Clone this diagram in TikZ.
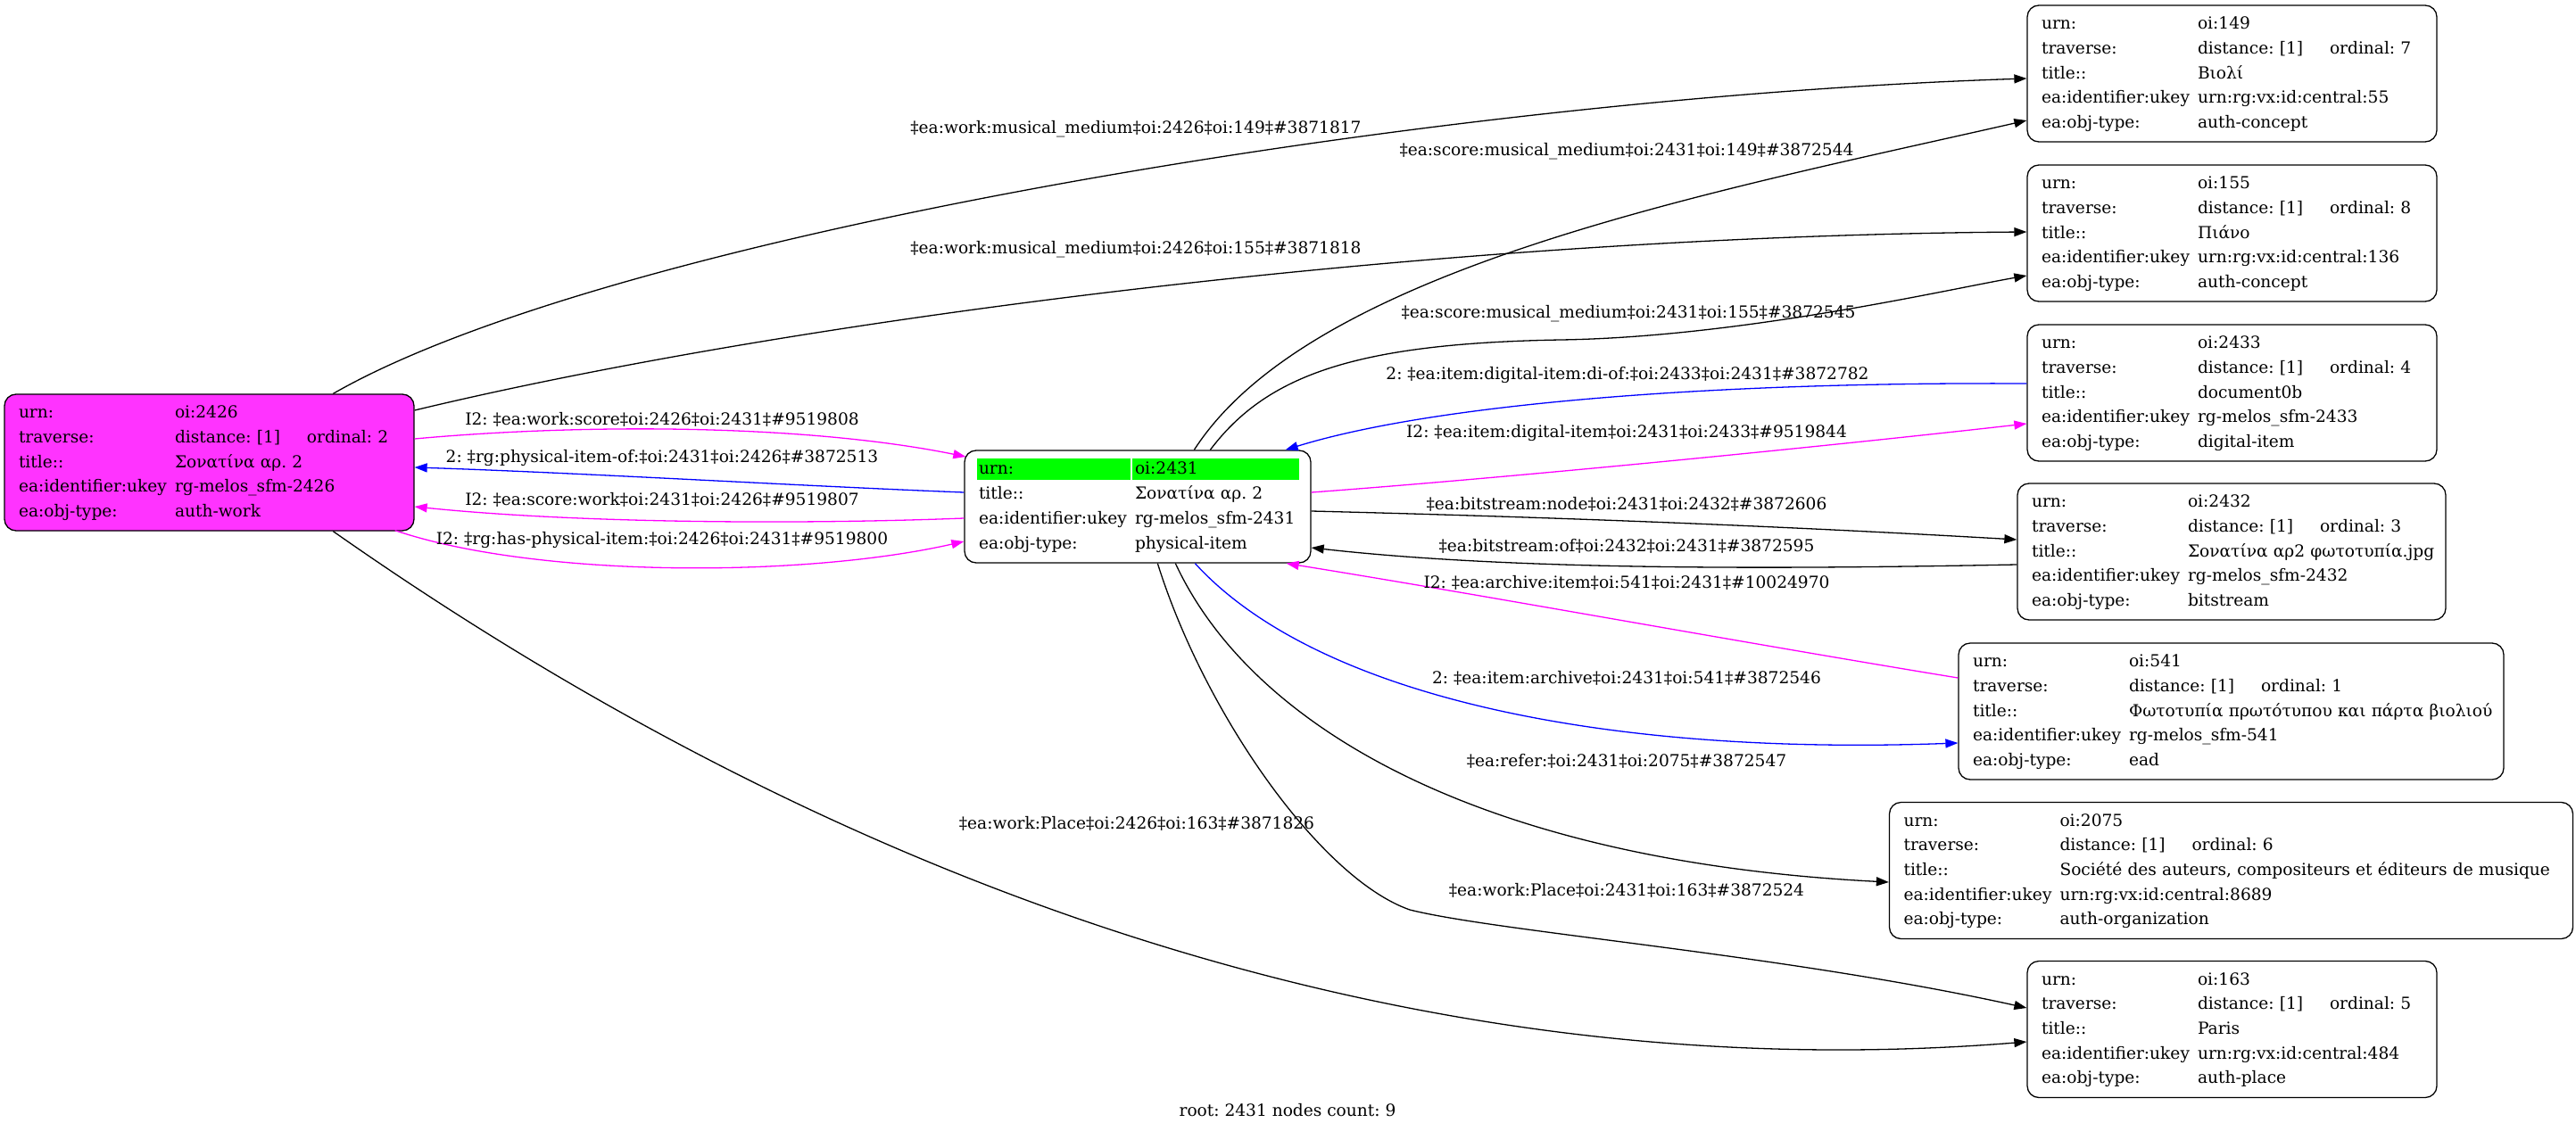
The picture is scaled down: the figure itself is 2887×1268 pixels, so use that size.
\documentclass[tikz,border=0pt]{standalone}
\usepackage{fontspec}
\setmainfont{DejaVu Serif}
\usetikzlibrary{arrows.meta,calc}
\renewcommand{\arraystretch}{1.242}
\frenchspacing
\definecolor{mag}{RGB}{255,0,255}
\definecolor{magfill}{RGB}{255,51,255}
\definecolor{gvgreen}{RGB}{0,255,0}
\definecolor{gvblue}{RGB}{0,0,255}
\newcommand\infotab[5]{%
\begin{tabular}{@{}p{175pt}@{}l@{}}
urn: & oi:#1\\
traverse: & \makebox[148pt][l]{distance: [1]}ordinal: #2\\
title:: & #3\\
ea:identifier:ukey & #4\\
ea:obj-type: & #5
\end{tabular}}
\tikzset{
  gvfont/.style={font=\fontsize{18.6}{22.3}\selectfont\frenchspacing},
  recbox/.style={gvfont, draw=black, line width=1.3pt, rounded corners=13pt,
    inner xsep=16pt, inner ysep=0pt, align=left, minimum height=153pt},
  lbl/.style={gvfont, inner sep=0pt},
  arr/.style={line width=1.3pt, -{Triangle[length=14pt,width=10pt]}},
  blk/.style={arr, draw=black},
  mg/.style={arr, draw=mag, -{Triangle[length=14pt,width=10pt,fill=mag]}},
  bl/.style={arr, draw=gvblue, -{Triangle[length=14pt,width=10pt,fill=gvblue]}}
}
\begin{document}
\begin{tikzpicture}[x=1pt,y=-1pt]
\fill[white] (0,0) rectangle (2887,1268);
\useasboundingbox (0,0) rectangle (2887,1268);

% green header cells of root node
\fill[gvgreen] (1095,514) rectangle (1267,538);
\fill[gvgreen] (1269,514) rectangle (1456,538);

% nodes
\node[recbox, fill=magfill, text width=427pt] (A) at (234.5,518.5)
  {\infotab{2426}{2}{Σονατίνα αρ. 2}{rg-melos\_sfm-2426}{auth-work}};
\node[recbox, text width=356pt, minimum height=126pt] (R) at (1275,568)
  {\begin{tabular}{@{}p{175pt}@{}l@{}}
   urn: & oi:2431\\
   title:: & Σονατίνα αρ. 2\\
   ea:identifier:ukey & rg-melos\_sfm-2431\\
   ea:obj-type: & physical-item
   \end{tabular}};
\node[recbox, text width=427pt] (B149) at (2501.5,82.5)
  {\infotab{149}{7}{Βιολί}{urn:rg:vx:id:central:55}{auth-concept}};
\node[recbox, text width=427pt] (B155) at (2501.5,261.5)
  {\infotab{155}{8}{Πιάνο}{urn:rg:vx:id:central:136}{auth-concept}};
\node[recbox, text width=427pt] (B2433) at (2501.5,440.5)
  {\infotab{2433}{4}{document0b}{rg-melos\_sfm-2433}{digital-item}};
\node[recbox, text width=448pt] (B2432) at (2501,618.5)
  {\infotab{2432}{3}{Σονατίνα αρ2 φωτοτυπία.jpg}{rg-melos\_sfm-2432}{bitstream}};
\node[recbox, text width=579pt] (B541) at (2500.5,797.5)
  {\infotab{541}{1}{Φωτοτυπία πρωτότυπου και πάρτα βιολιού}{rg-melos\_sfm-541}{ead}};
\node[recbox, text width=734pt] (B2075) at (2500.5,976)
  {\infotab{2075}{6}{Société des auteurs, compositeurs et éditeurs de musique}{urn:rg:vx:id:central:8689}{auth-organization}};
\node[recbox, text width=427pt] (B163) at (2501.5,1154)
  {\infotab{163}{5}{Paris}{urn:rg:vx:id:central:484}{auth-place}};

% edges
\draw[blk] ($(A.north west)+(369,0)$) .. controls (680,265) and (1600,110) .. ($(B149.west)+(0,5.5)$);
\draw[blk] ($(R.north west)+(258,0)$) .. controls (1470,300) and (1920,215) .. ($(B149.west)+(0,52.5)$);
\draw[blk] ($(A.east)+(0,-58.5)$) .. controls (880,360) and (1600,265) .. ($(B155.west)+(0,-1.5)$);
\draw[blk] ($(R.north west)+(276,0)$) .. controls (1420,420) and (1520,385) .. (1749,381)
  .. controls (1950,378) and (2180,325) .. ($(B155.west)+(0,47.5)$);
\draw[bl] ($(B2433.west)+(0,-10.5)$) .. controls (1900,428) and (1600,455) .. ($(R.north east)+(-29,0)$);
\draw[mg] ($(R.east)+(0,-16)$) .. controls (1700,535) and (2050,500) .. ($(B2433.west)+(0,34.5)$);
\draw[blk] ($(R.east)+(0,5)$) .. controls (1750,580) and (2000,590) .. ($(B2432.west)+(0,-13.5)$);
\draw[blk] ($(B2432.west)+(0,14.5)$) .. controls (2000,638) and (1700,640) .. ($(R.east)+(0,46)$);
\draw[mg] ($(B541.west)+(0,-37.5)$) .. controls (1950,720) and (1650,665) .. ($(R.south east)+(-28,0)$);
\draw[bl] ($(R.south west)+(259,0)$) .. controls (1470,775) and (1780,848) .. ($(B541.west)+(0,35.5)$);
\draw[blk] ($(R.south west)+(237,0)$) .. controls (1400,810) and (1650,965) .. ($(B2075.west)+(0,13)$);
\draw[blk] ($(R.south west)+(217,0)$) .. controls (1350,800) and (1480,985) .. (1580,1020)
  .. controls (1680,1045) and (2000,1070) .. ($(B163.west)+(0,-24)$);
\draw[blk] ($(A.south west)+(369,0)$) .. controls (850,930) and (1500,1230) .. ($(B163.west)+(0,14)$);
\draw[mg] ($(A.east)+(0,-26.5)$) .. controls (650,475) and (900,475) .. ($(R.west)+(2,-56)$);
\draw[bl] ($(R.west)+(0,-16)$) .. controls (900,545) and (650,530) .. ($(A.east)+(0,5.5)$);
\draw[mg] ($(R.west)+(0,13)$) .. controls (900,588) and (650,587) .. ($(A.east)+(0,49.5)$);
\draw[mg] ($(A.south east)+(-22,-1)$) .. controls (600,648) and (900,648) .. ($(R.west)+(0,39)$);

% edge labels
\node[lbl] (l1) at (1273,145) {‡ea:work:musical\_medium‡oi:2426‡oi:149‡\#3871817};
\node[lbl] (l2) at (1823,170) {‡ea:score:musical\_medium‡oi:2431‡oi:149‡\#3872544};
\node[lbl] (l3) at (1273,280) {‡ea:work:musical\_medium‡oi:2426‡oi:155‡\#3871818};
\node[lbl] (l4) at (1825,352) {‡ea:score:musical\_medium‡oi:2431‡oi:155‡\#3872545};
\node[lbl] (l5) at (1824,420) {2: ‡ea:item:digital-item:di-of:‡oi:2433‡oi:2431‡\#3872782};
\node[lbl] (l6) at (1823,485) {I2: ‡ea:item:digital-item‡oi:2431‡oi:2433‡\#9519844};
\node[lbl] (l7) at (1823,565) {‡ea:bitstream:node‡oi:2431‡oi:2432‡\#3872606};
\node[lbl] (l8) at (1823,612) {‡ea:bitstream:of‡oi:2432‡oi:2431‡\#3872595};
\node[lbl] (l9) at (1823,653) {I2: ‡ea:archive:item‡oi:541‡oi:2431‡\#10024970};
\node[lbl] (l10) at (1823,760) {2: ‡ea:item:archive‡oi:2431‡oi:541‡\#3872546};
\node[lbl] (l11) at (1823,853) {‡ea:refer:‡oi:2431‡oi:2075‡\#3872547};
\node[lbl] (l12) at (1823,998) {‡ea:work:Place‡oi:2431‡oi:163‡\#3872524};
\node[lbl] (l13) at (1274,923) {‡ea:work:Place‡oi:2426‡oi:163‡\#3871826};
\node[lbl] (l14) at (742,470) {I2: ‡ea:work:score‡oi:2426‡oi:2431‡\#9519808};
\node[lbl] (l15) at (742,513) {2: ‡rg:physical-item-of:‡oi:2431‡oi:2426‡\#3872513};
\node[lbl] (l16) at (742,560) {I2: ‡ea:score:work‡oi:2431‡oi:2426‡\#9519807};
\node[lbl] (l17) at (742,605) {I2: ‡rg:has-physical-item:‡oi:2426‡oi:2431‡\#9519800};

% footer
\node[lbl] (foot) at (1443,1245) {root: 2431 nodes count: 9};
\end{tikzpicture}
\end{document}
